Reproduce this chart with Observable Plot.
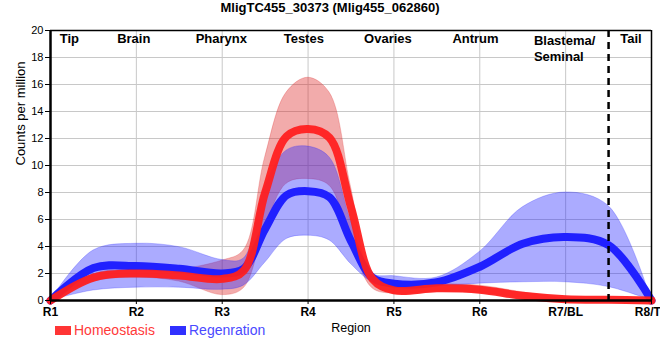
<!DOCTYPE html>
<html>
<head>
<meta charset="utf-8">
<script src="https://cdn.jsdelivr.net/npm/d3@7"></script>
<script src="https://cdn.jsdelivr.net/npm/@observablehq/plot@0.6"></script>
<style>
  body { margin: 0; background: white; font-family: "Liberation Sans", Arial, sans-serif; }
  #wrap { position: relative; width: 660px; height: 360px; overflow: hidden; }
  #title { position: absolute; left: 0; top: 0; width: 660px; text-align: center; font-weight: bold; font-size: 13px; line-height: 16px; }
  #chart { position: absolute; left: 0; top: 20px; }
  .leg { position: absolute; top: 322px; font-size: 14px; line-height: 16px; }
  .sw { position: absolute; width: 16px; height: 9px; top: 326px; }
</style>
</head>
<body>
<div id="wrap">
  <div id="title">MligTC455_30373 (Mlig455_062860)</div>
  <div id="chart"></div>
  <div class="sw" style="left:55px;background:#ff3535;"></div>
  <div class="leg" style="left:74px;color:#ff3a3a;">Homeostasis</div>
  <div class="sw" style="left:170px;background:#3030ff;"></div>
  <div class="leg" style="left:189px;color:#4a4aff;">Regenration</div>
</div>
<script>
// Data
const xs        = [1, 1.5, 2, 2.5, 3, 3.25, 3.5, 3.75, 4, 4.25, 4.5, 4.75, 5, 5.5, 6, 6.5, 7, 7.5, 8];
const redMean   = [0, 1.7, 2.0, 1.85, 1.6, 2.2, 8.0, 12.15, 12.7, 12.05, 6.9, 1.6, 0.75, 0.9, 0.8, 0.35, 0.1, 0.05, 0];
const redUpper  = [0, 1.95, 2.3, 2.3, 2.95, 3.7, 10.6, 15.4, 16.5, 15.4, 8.4, 1.7, 1.1, 1.2, 1.1, 0.6, 0.15, 0.05, 0];
const redLower  = [0, 1.4, 1.7, 1.4, 0.4, 0.9, 5.4, 8.65, 9.0, 8.5, 4.4, 0.9, 0.5, 0.65, 0.55, 0.2, 0, 0, 0];
const blueMean  = [0, 2.4, 2.55, 2.35, 2.0, 2.35, 5.3, 7.8, 8.1, 7.65, 4.4, 1.7, 1.25, 1.35, 2.5, 4.2, 4.7, 4.1, 0];
const blueUpper = [0, 3.7, 4.2, 3.95, 3.0, 3.1, 8.4, 11.1, 11.4, 10.6, 5.9, 2.0, 1.8, 1.7, 3.6, 6.9, 8.0, 7.0, 0];
const blueLower = [0, 0.74, 0.95, 0.95, 0.8, 1.1, 2.8, 4.55, 4.8, 4.45, 2.7, 1.35, 1.0, 1.04, 1.25, 1.35, 1.35, 1.0, 0];

const xTicks  = [1, 2, 3, 4, 5, 6, 7, 8];
const xLabels = ["R1", "R2", "R3", "R4", "R5", "R6", "R7/BL", "R8/TL"];
const yTicks  = [0, 2, 4, 6, 8, 10, 12, 14, 16, 18, 20];
const regionNames = ["Tip", "Brain", "Pharynx", "Testes", "Ovaries", "Antrum", "Tail"];
const regionX     = [1.22, 1.97, 2.99, 3.95, 4.93, 5.95, 7.76];
const blastemaLabel = "Blastema/\nSeminal";
const blastemaX = 6.63;
const dividerX = 7.5;

const rows = xs.map((x, i) => ({
  x, rm: redMean[i], ru: redUpper[i], rl: redLower[i],
  bm: blueMean[i], bu: blueUpper[i], bl: blueLower[i]
}));
const regions = regionNames.map((name, i) => ({name, x: regionX[i]}));
const curve = "catmull-rom";

const chart = Plot.plot({
  width: 660, height: 340,
  marginLeft: 50, marginRight: 9, marginTop: 10, marginBottom: 60,
  style: {fontFamily: "Liberation Sans, Arial, sans-serif", background: "white", color: "black"},
  x: {domain: [1, 8]},
  y: {domain: [0, 20]},
  marks: [
    Plot.gridX(xTicks, {stroke: "#c8c8c8", strokeOpacity: 1}),
    Plot.gridY(yTicks, {stroke: "#c8c8c8", strokeOpacity: 1}),
    Plot.areaY(rows, {x: "x", y1: "rl", y2: "ru", fill: "#dd2222", fillOpacity: 0.38, stroke: "#dd2222", strokeOpacity: 0.25, curve}),
    Plot.areaY(rows, {x: "x", y1: "bl", y2: "bu", fill: "#2222ff", fillOpacity: 0.38, stroke: "#2222ff", strokeOpacity: 0.25, curve}),
    Plot.lineY(rows, {x: "x", y: "bm", stroke: "#2020ff", strokeWidth: 8, curve}),
    Plot.lineY(rows, {x: "x", y: "rm", stroke: "#ff2020", strokeWidth: 8, curve, strokeOpacity: 0.95}),
    Plot.ruleX([dividerX], {stroke: "black", strokeWidth: 2.5, strokeDasharray: "7,5"}),
    Plot.ruleY([20], {stroke: "black", strokeWidth: 1.5}),
    Plot.ruleX([8], {stroke: "black", strokeWidth: 1.5}),
    Plot.ruleX([1], {stroke: "black", strokeWidth: 2.5}),
    Plot.ruleY([0], {stroke: "black", strokeWidth: 2.5}),
    Plot.axisX(xTicks, {tickFormat: d => xLabels[d - 1], fontWeight: "bold", fontSize: 12, tickSize: 4, tickPadding: 3, label: null}),
    Plot.axisY(yTicks, {fontSize: 11, tickSize: 5, tickPadding: 2, label: null}),
    Plot.text(regions, {x: "x", text: "name", frameAnchor: "top", lineAnchor: "top", dy: 3, fontWeight: "bold", fontSize: 13}),
    Plot.text([blastemaLabel], {x: () => blastemaX, text: d => d, frameAnchor: "top", lineAnchor: "top", dy: 3, textAnchor: "start", fontWeight: "bold", fontSize: 13, lineHeight: 1.23}),
    Plot.text(["Counts per million"], {text: d => d, frameAnchor: "left", dx: -30, rotate: -90, fontSize: 13}),
    Plot.text(["Region"], {text: d => d, frameAnchor: "bottom", dy: 31, fontSize: 12.5})
  ]
});
document.getElementById("chart").appendChild(chart);
</script>
</body>
</html>
